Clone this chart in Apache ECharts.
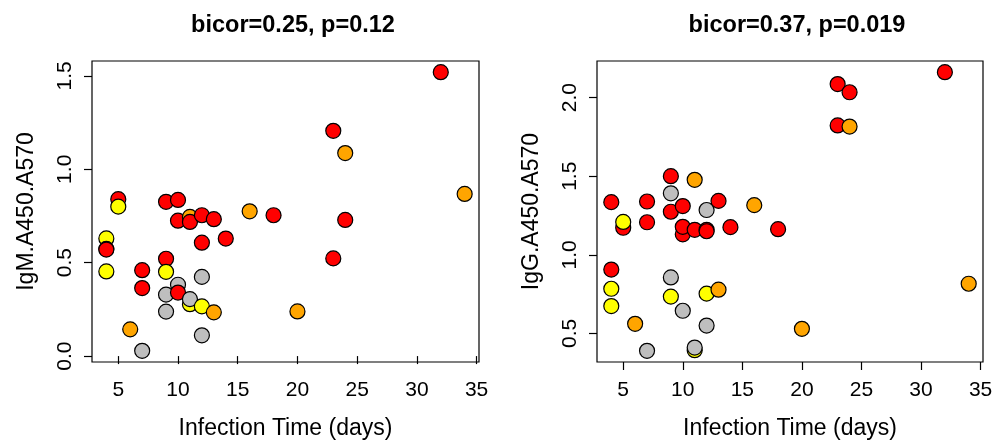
<!DOCTYPE html>
<html>
<head>
<meta charset="utf-8">
<script src="https://cdn.jsdelivr.net/npm/echarts@6/dist/echarts.min.js"></script>
<style>
  html, body { margin: 0; padding: 0; background: #fff; }
  #chart { width: 997px; height: 445px; }
</style>
</head>
<body>
<div id="chart"></div>
<script>
// Infection time (days) for each sample, in plotting order
const days = [4, 4, 4, 4, 5, 5, 6, 7, 7, 7, 9, 9, 9, 9, 9, 10, 10, 10, 10, 11, 11, 11, 11,
              12, 12, 12, 12, 12, 13, 13, 14, 16, 18, 20, 23, 23, 24, 24, 32, 34];
// Sample group (colour class)
const groups = ['Y', 'Y', 'R', 'R', 'R', 'Y', 'O', 'G', 'R', 'R', 'R', 'R', 'Y', 'G', 'G', 'G', 'R', 'R', 'R', 'O', 'R', 'Y', 'G',
                'R', 'R', 'G', 'G', 'Y', 'R', 'O', 'R', 'O', 'R', 'O', 'R', 'R', 'R', 'O', 'R', 'O'];
// IgM A450/A570
const igm = [0.63, 0.453, 0.574, 0.57, 0.84, 0.80, 0.143, 0.028, 0.46, 0.364, 0.826, 0.521, 0.451, 0.329, 0.238,
             0.382, 0.836, 0.725, 0.340, 0.745, 0.718, 0.278, 0.305,
             0.754, 0.607, 0.424, 0.111, 0.266, 0.733, 0.234, 0.629, 0.775, 0.754, 0.239, 1.206, 0.523, 0.729, 1.087, 1.52, 0.868];
// IgG A450/A570
const igg = [0.784, 0.674, 1.335, 0.906, 1.172, 1.209, 0.561, 0.389, 1.339, 1.207, 1.5, 1.274, 0.734, 1.391, 0.856,
             0.644, 1.13, 1.178, 1.31, 1.477, 1.159, 0.393, 0.41,
             1.159, 1.15, 1.285, 0.55, 0.753, 1.343, 0.778, 1.176, 1.316, 1.163, 0.529, 2.086, 1.823, 2.034, 1.816, 2.162, 0.816];

const groupColors = { R: '#FF0000', O: '#FFA500', Y: '#FFFF00', G: '#BEBEBE' };

const titles = ['bicor=0.25, p=0.12', 'bicor=0.37, p=0.019'];
const yNames = ['IgM.A450.A570', 'IgG.A450.A570'];
const xName = 'Infection Time (days)';
const xTicks = [5, 10, 15, 20, 25, 30, 35];
const yTicksIgm = [0, 0.5, 1.0, 1.5];
const yTicksIgg = [0.5, 1.0, 1.5, 2.0];

const FONT = 'Liberation Sans, Arial, Helvetica, sans-serif';

// R-style 4% padding of the data range
function padded(vals) {
  const lo = Math.min(...vals), hi = Math.max(...vals);
  const d = (hi - lo) * 0.04;
  return [lo - d, hi + d];
}

function points(values) {
  return days.map((d, i) => ({
    value: [d, values[i]],
    itemStyle: { color: groupColors[groups[i]] }
  }));
}

const xr = padded(days);
const yr = [padded(igm), padded(igg)];
const yTicks = [yTicksIgm, yTicksIgg];

const grids = [
  { left: 92, top: 61, width: 387, height: 305 },
  { left: 597, top: 61, width: 386, height: 305 }
].map(g => Object.assign(g, { show: true, borderColor: '#000', borderWidth: 1.2, backgroundColor: '#fff' }));

const xAxes = [0, 1].map(i => ({
  gridIndex: i, type: 'value', min: xr[0], max: xr[1],
  axisLine: { show: false },
  splitLine: { show: false },
  axisTick: { show: true, length: 8, customValues: xTicks, lineStyle: { color: '#000', width: 1.2 } },
  axisLabel: { customValues: xTicks, margin: 18, fontSize: 21, color: '#000', fontFamily: FONT },
  name: xName, nameLocation: 'middle', nameGap: 55,
  nameTextStyle: { fontSize: 23, color: '#000', fontFamily: FONT }
}));

const yAxes = [0, 1].map(i => ({
  gridIndex: i, type: 'value', min: yr[i][0], max: yr[i][1],
  axisLine: { show: false },
  splitLine: { show: false },
  axisTick: { show: true, length: 8, customValues: yTicks[i], lineStyle: { color: '#000', width: 1.2 } },
  axisLabel: { customValues: yTicks[i], rotate: 90, margin: 16, fontSize: 21, color: '#000', fontFamily: FONT,
               formatter: v => v.toFixed(1) },
  name: yNames[i], nameLocation: 'middle', nameGap: 54, nameRotate: 90,
  nameTextStyle: { fontSize: 23, color: '#000', fontFamily: FONT }
}));

const chart = echarts.init(document.getElementById('chart'), null, { renderer: 'canvas' });
chart.setOption({
  backgroundColor: '#fff',
  animation: false,
  title: [
    { text: titles[0], left: 288, top: 9, textAlign: 'center',
      textStyle: { fontSize: 23.5, fontWeight: 'bold', color: '#000', fontFamily: FONT } },
    { text: titles[1], left: 792, top: 9, textAlign: 'center',
      textStyle: { fontSize: 23.5, fontWeight: 'bold', color: '#000', fontFamily: FONT } }
  ],
  grid: grids,
  xAxis: xAxes,
  yAxis: yAxes,
  series: [igm, igg].map((vals, i) => ({
    type: 'scatter', xAxisIndex: i, yAxisIndex: i,
    symbol: 'circle', symbolSize: 15,
    itemStyle: { borderColor: '#000', borderWidth: 1.2, opacity: 1 },
    emphasis: { disabled: true },
    data: points(vals)
  }))
});
</script>
</body>
</html>
